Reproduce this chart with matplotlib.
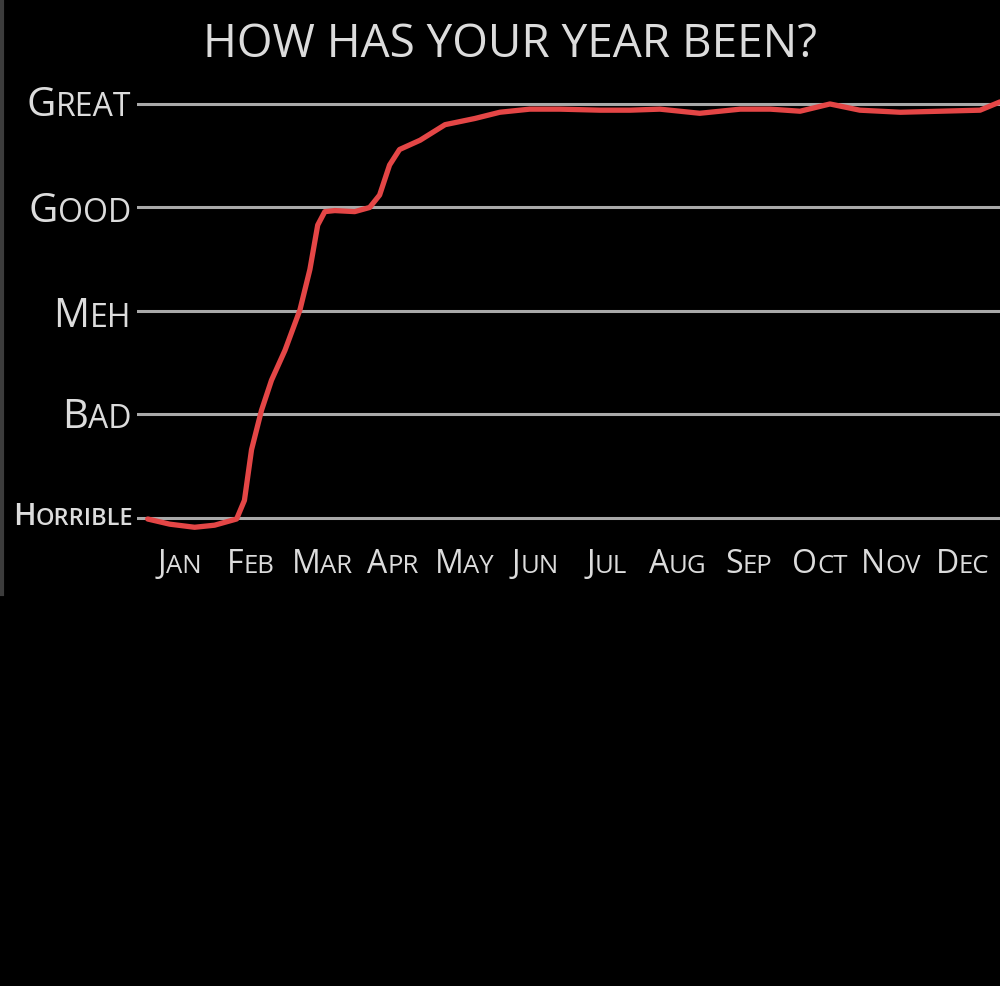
import matplotlib
matplotlib.use("Agg")
import matplotlib.pyplot as plt
from matplotlib.transforms import IdentityTransform

# --- data ---
months = ["Jan", "Feb", "Mar", "Apr", "May", "Jun",
          "Jul", "Aug", "Sep", "Oct", "Nov", "Dec"]
moods = ["Horrible", "Bad", "Meh", "Good", "Great"]

# mood curve: x in months (Jan = 0), y in mood levels (Horrible = 0)
curve_x = [-0.45, -0.14, 0.21, 0.49, 0.80, 0.91, 1.01, 1.15, 1.29, 1.48,
           1.69, 1.83, 1.94, 2.04, 2.18, 2.46, 2.67, 2.81, 2.95, 3.09,
           3.38, 3.73, 3.94, 4.15, 4.50, 4.92, 5.34, 5.91, 6.33, 6.75,
           7.31, 7.88, 8.30, 8.72, 9.14, 9.56, 10.13, 10.69, 11.25, 11.53]
curve_y = [-0.01, -0.06, -0.09, -0.07, -0.01, 0.17, 0.66, 1.04, 1.33, 1.62,
           2.01, 2.40, 2.83, 2.96, 2.97, 2.96, 3.00, 3.12, 3.41, 3.56,
           3.65, 3.80, 3.83, 3.86, 3.92, 3.95, 3.95, 3.94, 3.94, 3.95,
           3.91, 3.95, 3.95, 3.93, 4.00, 3.94, 3.92, 3.93, 3.94, 4.02]

title = "HOW HAS YOUR YEAR BEEN?"

FONT = "Open Sans"
TXT = "#dcdcdc"
W, H = 1000, 986

fig = plt.figure(figsize=(10, 9.86), dpi=100, facecolor="black")
ax = fig.add_axes([137 / W, 1 - 540 / H, 1 - 137 / W, 450 / H])
ax.set_facecolor("black")
ax.set_xlim(-0.60, 11.53)
ax.set_ylim(-0.213, 4.135)
ax.axis("off")

for i in range(len(moods)):
    ax.axhline(i, color="#a9a9a9", lw=2.2, zorder=1)

ax.plot(curve_x, curve_y, color="#e44646", lw=3.8, zorder=2,
        solid_capstyle="round", solid_joinstyle="round")

# thin grey edge on the left of the original screenshot
fig.add_artist(plt.Line2D([2, 2], [H - 594, H], transform=IdentityTransform(),
                          color="#3c3c3c", lw=3))

renderer = fig.canvas.get_renderer()


def small_caps(word, x, y, big, small, ha, weight="normal"):
    # first letter at full size, the rest as smaller capitals
    kw = dict(color=TXT, family=FONT, weight=weight, va="baseline",
              ha="left", transform=IdentityTransform())
    t1 = fig.text(0, 0, word[0].upper(), fontsize=big, **kw)
    t2 = fig.text(0, 0, word[1:].upper(), fontsize=small, **kw)
    w1 = t1.get_window_extent(renderer).width
    w2 = t2.get_window_extent(renderer).width
    total = w1 + w2
    left = x - total if ha == "right" else x - total / 2
    t1.set_position((left, H - y))
    t2.set_position((left + w1, H - y))


# y labels (baseline pixel rows)
label_base = [525, 428, 327, 222, 116]
for i, m in enumerate(moods):
    if m == "Horrible":
        small_caps(m, 133, label_base[i], 21.5, 17, "right", "semibold")
    else:
        small_caps(m, 131, label_base[i], 29, 23, "right")

# month labels
for i, m in enumerate(months):
    px = ax.transData.transform((i, 0))[0]
    small_caps(m, px, 573, 23, 18.5, "center")

fig.text(510 / W, 1 - 57 / H, title, fontsize=33, color=TXT, family=FONT,
         weight="normal", ha="center", va="baseline")

fig.savefig("out.png", dpi=100, facecolor="black")
